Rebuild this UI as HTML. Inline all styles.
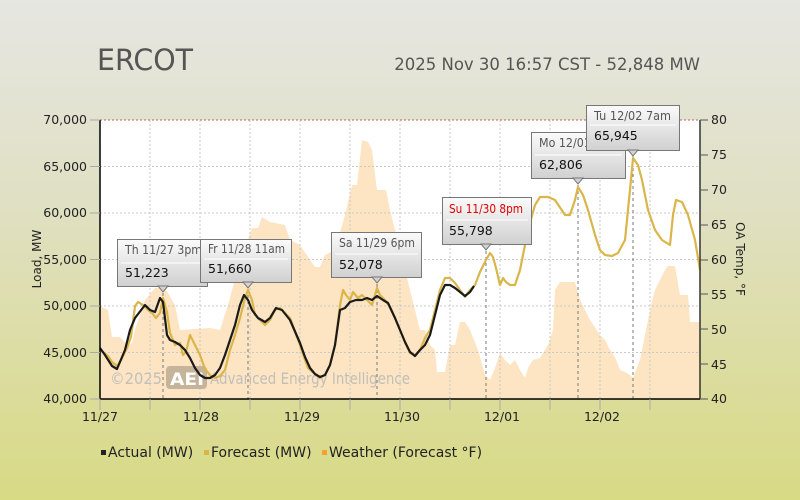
<!DOCTYPE html>
<html><head><style>
html,body{margin:0;width:800px;height:500px;overflow:hidden;}
body{background:linear-gradient(#e6e6e2 0%,#e0e0c4 40%,#d8da84 100%);font-family:"DejaVu Sans","Liberation Sans",sans-serif;}
svg{display:block;}
</style></head><body>
<svg width="800" height="500" xmlns="http://www.w3.org/2000/svg" font-family="DejaVu Sans, Liberation Sans, sans-serif">
<defs><linearGradient id="cb" x1="0" y1="0" x2="0" y2="1"><stop offset="0" stop-color="#fbfbfb"/><stop offset="1" stop-color="#d0d0d0"/></linearGradient></defs>
<text x="97" y="70" font-size="29" fill="#555" textLength="96" lengthAdjust="spacingAndGlyphs">ERCOT</text>
<text x="700" y="70" font-size="16.5" fill="#555" text-anchor="end">2025 Nov 30 16:57 CST - 52,848 MW</text>
<rect x="100" y="120" width="600" height="279" fill="#fff"/>
<polygon fill="#fde4c2" points="100,399 100,306 108,310 112,337 120,337 128,346 132,343 135,330 145,300 155,288 165,288 175,305 180,330 210,328 220,330 228,305 232,290 240,262 252,228 258,228 262,217 270,222 285,225 290,240 300,245 310,260 315,267 320,267 325,255 335,250 345,215 352,185 357,185 362,140 368,142 372,150 377,190 386,190 390,210 395,230 400,240 405,270 410,290 415,310 420,330 425,330 430,345 435,350 437,372 445,372 450,345 455,345 460,322 465,322 470,330 478,350 485,375 490,380 495,368 500,353 505,360 510,365 515,360 520,370 525,378 528,368 533,360 540,358 548,345 553,330 555,290 560,282 575,282 580,300 590,320 600,335 605,340 610,350 615,357 620,370 625,372 630,375 633,378 640,360 645,335 650,310 655,290 660,280 665,270 668,266 675,266 680,295 688,295 690,322 700,322 700,399"/>
<g stroke="#c8c8c8" stroke-dasharray="2,2" stroke-width="1">
<line x1="100" y1="166.5" x2="700" y2="166.5"/><line x1="100" y1="213" x2="700" y2="213"/><line x1="100" y1="259.5" x2="700" y2="259.5"/><line x1="100" y1="306" x2="700" y2="306"/><line x1="100" y1="352.5" x2="700" y2="352.5"/>
<line x1="150" y1="120" x2="150" y2="399"/><line x1="200" y1="120" x2="200" y2="399"/><line x1="250" y1="120" x2="250" y2="399"/><line x1="300" y1="120" x2="300" y2="399"/><line x1="350" y1="120" x2="350" y2="399"/><line x1="400" y1="120" x2="400" y2="399"/><line x1="450" y1="120" x2="450" y2="399"/><line x1="500" y1="120" x2="500" y2="399"/><line x1="550" y1="120" x2="550" y2="399"/><line x1="600" y1="120" x2="600" y2="399"/><line x1="650" y1="120" x2="650" y2="399"/>
</g>
<g stroke="#777" stroke-dasharray="3,3" stroke-width="1">
<line x1="163" y1="287" x2="163" y2="399"/><line x1="248" y1="283" x2="248" y2="399"/><line x1="377" y1="278" x2="377" y2="399"/><line x1="486" y1="245" x2="486" y2="399"/><line x1="578" y1="179" x2="578" y2="399"/><line x1="633" y1="150" x2="633" y2="399"/>
</g>
<line x1="100" y1="120" x2="700" y2="120" stroke="#c06060" stroke-dasharray="2,2"/>
<text x="110" y="384" font-size="16" fill="#bbb" opacity="0.9" textLength="52" lengthAdjust="spacingAndGlyphs">©2025</text>
<rect x="166" y="366" width="41" height="23" rx="4" fill="#b8a890" opacity="0.8"/>
<text x="170" y="385" font-size="17" fill="#fff" font-weight="bold" textLength="34" lengthAdjust="spacingAndGlyphs">AEI</text>
<text x="210" y="384" font-size="16" fill="#bbb" opacity="0.9" textLength="200" lengthAdjust="spacingAndGlyphs">Advanced Energy Intelligence</text>
<polyline fill="none" stroke="#dab64a" stroke-width="2.2" stroke-linejoin="round" points="100,349 103,352 108,356 112,362 117,366 120,362 127,348 131,337 135,306 138,302 143,305 148,310 152,313 156,318 160,313 163,298 167,312 170,333 175,345 180,343 183,355 186,352 190,335 195,345 200,355 205,369 210,375 215,378 220,376 225,370 230,350 235,335 240,318 245,298 248,290 252,300 255,315 260,320 265,325 270,320 275,310 280,308 290,318 300,345 305,360 308,368 315,374 320,378 325,375 330,365 335,345 340,305 343,290 346,295 350,300 353,292 358,298 362,295 367,300 372,305 377,288 380,295 385,300 390,307 395,318 400,330 405,342 410,353 415,355 420,350 425,338 430,330 435,310 440,290 445,278 450,278 455,283 460,290 465,297 470,290 475,285 480,272 486,260 490,253 493,257 496,268 500,285 503,278 506,282 510,285 515,285 520,270 524,250 528,230 535,205 540,197 548,197 555,200 565,215 570,215 575,200 578,187 583,195 588,210 595,235 600,250 605,255 612,256 618,253 625,240 630,190 633,158 638,165 642,180 648,210 655,230 662,240 670,245 673,215 676,200 682,202 688,215 695,240 700,270"/>
<polyline fill="none" stroke="#1a1a1a" stroke-width="2.2" stroke-linejoin="round" points="100,348 105,355 112,366 117,369 125,350 130,330 135,318 145,305 150,310 155,312 160,298 163,302 167,335 170,340 175,342 180,345 185,350 190,358 195,368 200,375 205,378 210,378 215,375 220,368 225,355 230,340 235,325 240,305 244,295 248,300 252,310 258,318 265,322 270,318 276,308 282,310 290,320 300,343 305,357 310,368 315,374 320,377 325,375 330,365 335,345 340,310 345,308 350,302 356,300 362,300 367,298 372,300 377,296 383,300 388,303 395,318 400,330 405,342 410,352 415,356 420,350 425,345 430,335 435,315 440,295 445,285 450,285 455,288 460,292 465,296 470,292 474,286"/>
<line x1="100" y1="120" x2="100" y2="399" stroke="#000" stroke-width="1.5"/>
<line x1="100" y1="399" x2="700" y2="399" stroke="#000" stroke-width="1.5"/>
<line x1="700" y1="120" x2="700" y2="399" stroke="#333" stroke-width="1.5"/>
<g stroke="#aaa"><line x1="90" y1="120" x2="100" y2="120"/><line x1="90" y1="166.5" x2="100" y2="166.5"/><line x1="90" y1="213" x2="100" y2="213"/><line x1="90" y1="259.5" x2="100" y2="259.5"/><line x1="90" y1="306" x2="100" y2="306"/><line x1="90" y1="352.5" x2="100" y2="352.5"/><line x1="90" y1="399" x2="100" y2="399"/>
<line x1="100" y1="399" x2="100" y2="410"/><line x1="150" y1="399" x2="150" y2="410"/><line x1="200" y1="399" x2="200" y2="410"/><line x1="250" y1="399" x2="250" y2="410"/><line x1="300" y1="399" x2="300" y2="410"/><line x1="350" y1="399" x2="350" y2="410"/><line x1="400" y1="399" x2="400" y2="410"/><line x1="450" y1="399" x2="450" y2="410"/><line x1="500" y1="399" x2="500" y2="410"/><line x1="550" y1="399" x2="550" y2="410"/><line x1="600" y1="399" x2="600" y2="410"/><line x1="650" y1="399" x2="650" y2="410"/></g>
<g stroke="#555"><line x1="700" y1="120" x2="708" y2="120"/><line x1="700" y1="155" x2="708" y2="155"/><line x1="700" y1="190" x2="708" y2="190"/><line x1="700" y1="225" x2="708" y2="225"/><line x1="700" y1="260" x2="708" y2="260"/><line x1="700" y1="294" x2="708" y2="294"/><line x1="700" y1="329" x2="708" y2="329"/><line x1="700" y1="364" x2="708" y2="364"/><line x1="700" y1="399" x2="708" y2="399"/></g>
<g font-size="12.5" fill="#222" text-anchor="end">
<text x="87" y="124">70,000</text><text x="87" y="171">65,000</text><text x="87" y="217">60,000</text><text x="87" y="264">55,000</text><text x="87" y="310">50,000</text><text x="87" y="357">45,000</text><text x="87" y="403">40,000</text></g>
<g font-size="12.5" fill="#222"><text x="711" y="124">80</text><text x="711" y="159">75</text><text x="711" y="194">70</text><text x="711" y="229">65</text><text x="711" y="264">60</text><text x="711" y="299">55</text><text x="711" y="334">50</text><text x="711" y="369">45</text><text x="711" y="403">40</text></g>
<g font-size="12.5" fill="#222" text-anchor="middle"><text x="100" y="421">11/27</text><text x="201" y="421">11/28</text><text x="302" y="421">11/29</text><text x="402" y="421">11/30</text><text x="502" y="421">12/01</text><text x="602" y="421">12/02</text></g>
<text transform="translate(41,259) rotate(-90)" font-size="12" fill="#222" text-anchor="middle">Load, MW</text>
<text transform="translate(736,259) rotate(90)" font-size="12" fill="#222" text-anchor="middle">OA Temp, °F</text>
<g font-size="14" fill="#222">
<rect x="101" y="450" width="5" height="5" fill="#222"/><text x="108" y="457">Actual (MW)</text>
<rect x="204" y="450" width="5" height="5" fill="#dab64a"/><text x="211" y="457">Forecast (MW)</text>
<rect x="322" y="450" width="5" height="5" fill="#f5a030"/><text x="329" y="457">Weather (Forecast °F)</text></g>
<g font-size="12.5">
<g><rect x="117.5" y="239.5" width="90" height="47" fill="url(#cb)" stroke="#777"/><line x1="121" y1="263" x2="204" y2="263" stroke="#fff"/><polygon points="158,286 168,286 163,292" fill="#d2d2d2" stroke="#777"/><text x="125" y="254" fill="#555" textLength="77" lengthAdjust="spacingAndGlyphs">Th 11/27 3pm</text><text x="125" y="277" fill="#111">51,223</text></g>
<g><rect x="200.5" y="239.5" width="91" height="43" fill="url(#cb)" stroke="#777"/><line x1="204" y1="259" x2="288" y2="259" stroke="#fff"/><polygon points="243,282 253,282 248,288" fill="#d2d2d2" stroke="#777"/><text x="208" y="253" fill="#555" textLength="77" lengthAdjust="spacingAndGlyphs">Fr 11/28 11am</text><text x="208" y="273" fill="#111">51,660</text></g>
<g><rect x="331.5" y="232.5" width="90" height="45" fill="url(#cb)" stroke="#777"/><line x1="335" y1="254" x2="418" y2="254" stroke="#fff"/><polygon points="372,277 382,277 377,283" fill="#d2d2d2" stroke="#777"/><text x="339" y="247" fill="#555" textLength="76" lengthAdjust="spacingAndGlyphs">Sa 11/29 6pm</text><text x="339" y="269" fill="#111">52,078</text></g>
<g><rect x="442.5" y="197.5" width="89" height="47" fill="url(#cb)" stroke="#777"/><line x1="446" y1="220" x2="528" y2="220" stroke="#fff"/><polygon points="481,244 491,244 486,250" fill="#d2d2d2" stroke="#777"/><text x="449" y="213" fill="#e00000" textLength="74" lengthAdjust="spacingAndGlyphs">Su 11/30 8pm</text><text x="449" y="235" fill="#111">55,798</text></g>
<g><rect x="531.5" y="132.5" width="94" height="46" fill="url(#cb)" stroke="#777"/><line x1="535" y1="155" x2="622" y2="155" stroke="#fff"/><polygon points="573,178 583,178 578,184" fill="#d2d2d2" stroke="#777"/><text x="539" y="147" fill="#555" textLength="80" lengthAdjust="spacingAndGlyphs">Mo 12/01 9am</text><text x="539" y="169" fill="#111">62,806</text></g>
<g><rect x="586.5" y="105.5" width="93" height="45" fill="url(#cb)" stroke="#777"/><line x1="590" y1="125" x2="676" y2="125" stroke="#fff"/><polygon points="628,150 638,150 633,156" fill="#d2d2d2" stroke="#777"/><text x="594" y="120" fill="#555" textLength="77" lengthAdjust="spacingAndGlyphs">Tu 12/02 7am</text><text x="594" y="140" fill="#111">65,945</text></g>
</g>
</svg>
</body></html>
